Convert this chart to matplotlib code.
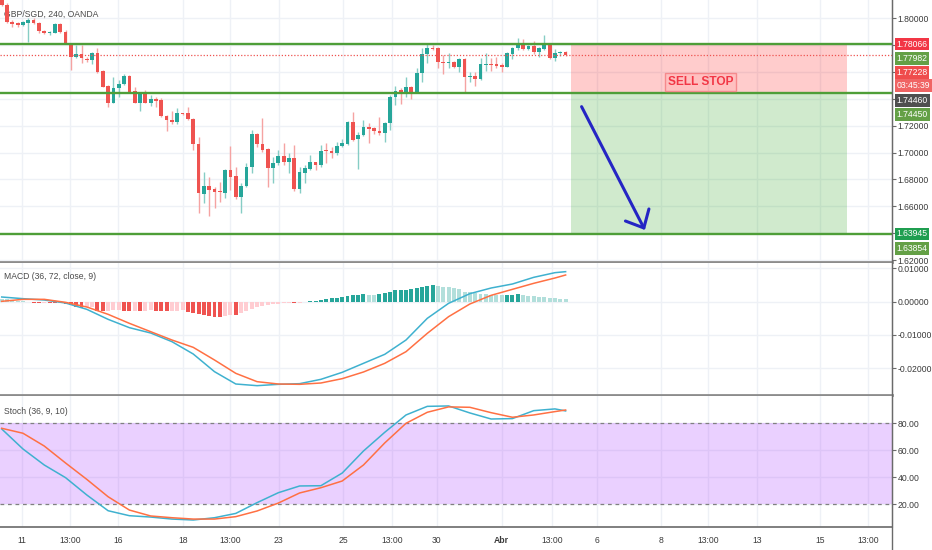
import matplotlib
matplotlib.use("Agg")
import matplotlib.pyplot as plt
import matplotlib.transforms as mtransforms
from matplotlib.lines import Line2D
from matplotlib.patches import Rectangle
from matplotlib.ticker import FuncFormatter

plt.rcParams['font.family'] = ['Liberation Sans', 'DejaVu Sans']

# ---- GBP/SGD 4h candles ----
opens = [1.8150, 1.8097, 1.7973, 1.7966, 1.7948, 1.7966, 1.7985, 1.7966, 1.7906, 1.7886,
         1.7891, 1.7953, 1.7899, 1.7799, 1.7708, 1.7730, 1.7698, 1.7688, 1.7742, 1.7609,
         1.7495, 1.7371, 1.7477, 1.7510, 1.7569, 1.7460, 1.7371, 1.7445, 1.7371, 1.7398,
         1.7391, 1.7274, 1.7242, 1.7230, 1.7291, 1.7291, 1.7249, 1.7063, 1.6692, 1.6751,
         1.6729, 1.6717, 1.6702, 1.6870, 1.6826, 1.6672, 1.6751, 1.6895, 1.7135, 1.7063,
         1.7024, 1.6883, 1.6920, 1.6974, 1.6932, 1.6957, 1.6726, 1.6850, 1.6878, 1.6927,
         1.6907, 1.7019, 1.7014, 1.6994, 1.7051, 1.7063, 1.7230, 1.7103, 1.7130, 1.7192,
         1.7180, 1.7163, 1.7143, 1.7222, 1.7415, 1.7465, 1.7453, 1.7485, 1.7453, 1.7594,
         1.7733, 1.7775, 1.7775, 1.7676, 1.7663, 1.7676, 1.7638, 1.7693, 1.7559, 1.7569,
         1.7547, 1.7653, 1.7658, 1.7656, 1.7651, 1.7638, 1.7733, 1.7775, 1.7799, 1.7767,
         1.7792, 1.7745, 1.7767, 1.7807, 1.7700, 1.7738, 1.7750]
closes = [1.8097, 1.7973, 1.7956, 1.7948, 1.7973, 1.7985, 1.7966, 1.7906, 1.7886, 1.7899,
          1.7953, 1.7894, 1.7812, 1.7708, 1.7730, 1.7700, 1.7688, 1.7742, 1.7601, 1.7490,
          1.7371, 1.7477, 1.7510, 1.7569, 1.7453, 1.7371, 1.7445, 1.7371, 1.7398, 1.7386,
          1.7272, 1.7242, 1.7225, 1.7291, 1.7284, 1.7249, 1.7063, 1.6697, 1.6751, 1.6722,
          1.6709, 1.6709, 1.6870, 1.6821, 1.6672, 1.6751, 1.6895, 1.7135, 1.7063, 1.7019,
          1.6883, 1.6920, 1.6974, 1.6932, 1.6957, 1.6726, 1.6858, 1.6883, 1.6927, 1.6907,
          1.7014, 1.7009, 1.6994, 1.7051, 1.7073, 1.7230, 1.7093, 1.7130, 1.7192, 1.7177,
          1.7163, 1.7143, 1.7222, 1.7415, 1.7460, 1.7453, 1.7485, 1.7453, 1.7594, 1.7733,
          1.7775, 1.7767, 1.7671, 1.7663, 1.7676, 1.7638, 1.7693, 1.7559, 1.7569, 1.7547,
          1.7656, 1.7658, 1.7653, 1.7646, 1.7638, 1.7738, 1.7780, 1.7799, 1.7767, 1.7792,
          1.7745, 1.7775, 1.7807, 1.7700, 1.7738, 1.7750, 1.7725]
highs = [1.8160, 1.8109, 1.7985, 1.7973, 1.7980, 1.7998, 1.7998, 1.7973, 1.7911, 1.7906,
         1.7961, 1.7961, 1.7911, 1.7812, 1.7799, 1.7799, 1.7708, 1.7750, 1.7775, 1.7614,
         1.7502, 1.7564, 1.7539, 1.7584, 1.7576, 1.7490, 1.7453, 1.7465, 1.7428, 1.7410,
         1.7403, 1.7279, 1.7311, 1.7329, 1.7296, 1.7336, 1.7254, 1.7118, 1.6858, 1.6821,
         1.6741, 1.6783, 1.6875, 1.7051, 1.6895, 1.6776, 1.6920, 1.7168, 1.7143, 1.7254,
         1.7031, 1.6969, 1.7019, 1.7068, 1.6994, 1.7056, 1.6895, 1.6907, 1.6982, 1.6932,
         1.7056, 1.7068, 1.7044, 1.7081, 1.7098, 1.7237, 1.7304, 1.7155, 1.7242, 1.7217,
         1.7192, 1.7262, 1.7230, 1.7428, 1.7495, 1.7477, 1.7559, 1.7495, 1.7626, 1.7775,
         1.7812, 1.7799, 1.7787, 1.7725, 1.7742, 1.7683, 1.7700, 1.7700, 1.7601, 1.7601,
         1.7700, 1.7738, 1.7700, 1.7713, 1.7663, 1.7750, 1.7787, 1.7849, 1.7842, 1.7799,
         1.7829, 1.7787, 1.7874, 1.7812, 1.7767, 1.7757, 1.7757]
lows = [1.8092, 1.7966, 1.7936, 1.7931, 1.7941, 1.7824, 1.7956, 1.7886, 1.7879, 1.7874,
        1.7886, 1.7891, 1.7807, 1.7614, 1.7700, 1.7663, 1.7676, 1.7658, 1.7594, 1.7485,
        1.7341, 1.7366, 1.7415, 1.7502, 1.7445, 1.7366, 1.7309, 1.7366, 1.7346, 1.7341,
        1.7262, 1.7160, 1.7212, 1.7212, 1.7279, 1.7242, 1.7019, 1.6548, 1.6622, 1.6528,
        1.6585, 1.6635, 1.6660, 1.6722, 1.6652, 1.6548, 1.6746, 1.6850, 1.7044, 1.7007,
        1.6741, 1.6776, 1.6907, 1.6907, 1.6845, 1.6717, 1.6702, 1.6776, 1.6870, 1.6870,
        1.6895, 1.6920, 1.6957, 1.6982, 1.7044, 1.7056, 1.7088, 1.6875, 1.7123, 1.7068,
        1.7135, 1.7130, 1.7081, 1.7168, 1.7353, 1.7361, 1.7415, 1.7398, 1.7445, 1.7527,
        1.7663, 1.7762, 1.7626, 1.7584, 1.7626, 1.7626, 1.7601, 1.7453, 1.7527, 1.7495,
        1.7539, 1.7609, 1.7609, 1.7626, 1.7601, 1.7633, 1.7693, 1.7762, 1.7762, 1.7762,
        1.7733, 1.7713, 1.7762, 1.7693, 1.7683, 1.7718, 1.7718]

# ---- MACD (36, 72, close, 9) ----
macd_hist = [0.0009, 0.0007, 0.0004, 0.0002, 0.0001, 0.0000, -0.0004, -0.0005, -0.0004, -0.0004,
             -0.0004, -0.0003, -0.0007, -0.0010, -0.0015, -0.0018, -0.0017, -0.0016, -0.0027, -0.0028,
             -0.0027, -0.0026, -0.0025, -0.0027, -0.0028, -0.0027, -0.0028, -0.0027, -0.0026, -0.0027,
             -0.0028, -0.0029, -0.0028, -0.0027, -0.0026, -0.0030, -0.0033, -0.0036, -0.0040, -0.0044,
             -0.0046, -0.0047, -0.0043, -0.0040, -0.0041, -0.0035, -0.0029, -0.0022, -0.0015, -0.0012,
             -0.0010, -0.0008, -0.0006, -0.0005, -0.0004, -0.0005, -0.0003, -0.0001, 0.0001, 0.0003,
             0.0005, 0.0008, 0.0010, 0.0012, 0.0014, 0.0018, 0.0019, 0.0020, 0.0022, 0.0021,
             0.0020, 0.0024, 0.0026, 0.0030, 0.0034, 0.0035, 0.0036, 0.0037, 0.0040, 0.0045,
             0.0048, 0.0050, 0.0048, 0.0045, 0.0043, 0.0040, 0.0037, 0.0030, 0.0028, 0.0025,
             0.0023, 0.0022, 0.0021, 0.0020, 0.0019, 0.0020, 0.0021, 0.0022, 0.0019, 0.0018,
             0.0017, 0.0015, 0.0013, 0.0012, 0.0010, 0.0008, 0.0007]
line_bars = [0, 4, 8, 12, 16, 20, 24, 28, 32, 36, 40, 44, 48, 52, 56, 60, 64, 68, 72,
             76, 80, 84, 88, 92, 96, 100, 104, 106]
macd_line = [0.0014, 0.0009, 0.0005, -0.0004, -0.0023, -0.0053, -0.0078, -0.0094, -0.0120,
             -0.0157, -0.0210, -0.0247, -0.0252, -0.0248, -0.0246, -0.0233, -0.0212, -0.0185,
             -0.0158, -0.0115, -0.0050, -0.0005, 0.0024, 0.0041, 0.0053, 0.0073, 0.0087, 0.0090]
macd_signal = [0.0001, 0.0007, 0.0007, -0.0002, -0.0016, -0.0038, -0.0065, -0.0090, -0.0115,
               -0.0137, -0.0175, -0.0215, -0.0240, -0.0247, -0.0248, -0.0244, -0.0231, -0.0211,
               -0.0185, -0.0150, -0.0095, -0.0045, -0.0007, 0.0019, 0.0037, 0.0055, 0.0071, 0.0080]

# ---- Stoch (36, 9, 10) ----
stoch_k = [75.8, 60.9, 49.0, 39.6, 26.7, 15.0, 11.3, 10.3, 8.8, 8.1, 9.8, 13.0, 21.0, 28.4,
           33.4, 33.6, 43.0, 59.4, 73.3, 86.2, 92.6, 92.9, 87.7, 83.2, 83.5, 89.4, 90.7, 89.2]
stoch_d = [76.3, 72.6, 63.1, 50.5, 38.3, 25.4, 15.5, 11.1, 9.8, 8.8, 8.8, 10.6, 14.8, 20.7,
           28.2, 32.1, 37.1, 49.0, 65.4, 80.0, 88.2, 92.2, 91.9, 87.9, 84.5, 86.2, 88.7, 89.9]

# ---- time axis (bar units) ----
tick_pos = [3.8, 12.8, 21.9, 34.1, 42.9, 52.1, 64.2, 73.4, 81.8, 94.0, 103.4, 111.9,
            123.9, 132.8, 142.0, 153.8, 162.8]
tick_lbl = ['11', '13:00', '16', '18', '13:00', '23', '25', '13:00', '30', 'Abr', '13:00',
            '6', '8', '13:00', '13', '15', '13:00']

# ---- drawings ----
stop_level = 1.78066
entry_level = 1.74460
target_level = 1.63945
last_price = 1.77228
pos_start, pos_end = 107.0, 158.9

UP, DOWN = '#26a69a', '#ef5350'
GRID = '#eef1f6'
TXT = '#3a3a3a'
FS = 6.2

fig = plt.figure(figsize=(9.32, 5.5), dpi=100)
W = 892 / 932
ax = fig.add_axes([0, 1 - 262 / 550, W, 262 / 550])
ax_m = fig.add_axes([0, 1 - 395 / 550, W, 132 / 550], sharex=ax)
ax_s = fig.add_axes([0, 1 - 527 / 550, W, 131 / 550], sharex=ax)

for a in (ax, ax_m, ax_s):
    a.set_axisbelow(True)
    a.grid(True, color=GRID, lw=1)
    a.yaxis.tick_right()
    for s in ('top', 'left'):
        a.spines[s].set_visible(False)
    a.spines['right'].set_color('#6a6a6a')
    a.spines['bottom'].set_color('#8c8c8c')
    a.spines['bottom'].set_linewidth(2)
    a.tick_params(axis='y', length=3, color='#6a6a6a', labelsize=FS, labelcolor=TXT, pad=1)
    a.tick_params(axis='x', length=0)

ax_s.set_xticks(tick_pos)
ax_s.set_xticklabels(tick_lbl)
ax_s.set_xlim(-0.32, 167.35)
ax.tick_params(axis='x', labelbottom=False)
ax_m.tick_params(axis='x', labelbottom=False)
ax_s.tick_params(axis='x', labelsize=FS, labelcolor=TXT, pad=6.5)
ax_s.spines['bottom'].set_color('#6a6a6a')
ax_s.spines['bottom'].set_linewidth(1.2)
for lbl in ax_s.get_xticklabels():
    if lbl.get_text() == 'Abr':
        lbl.set_fontweight('bold')

# ---- main price panel ----
bar_x = list(range(len(opens)))
body_col = [UP if c >= o else DOWN for o, c in zip(opens, closes)]
wick_col = ['#86cdc5' if c >= o else '#f5a3a2' for o, c in zip(opens, closes)]
bottoms = [min(o, c) for o, c in zip(opens, closes)]
heights = [max(abs(c - o), 0.0006) for o, c in zip(opens, closes)]
ax.vlines(bar_x, lows, highs, colors=wick_col, lw=1, zorder=3)
ax.bar(bar_x, heights, bottom=bottoms, width=0.7, color=body_col, zorder=4)

ax.set_ylim(1.6186, 1.8134)
ax.set_yticks([1.62, 1.64, 1.66, 1.68, 1.70, 1.72, 1.74, 1.76, 1.78, 1.80])
ax.yaxis.set_major_formatter(FuncFormatter(lambda v, _: f'{v:.5f}'))

ax.add_patch(Rectangle((pos_start, entry_level), pos_end - pos_start, stop_level - entry_level,
                       fc=(1, 0, 0, 0.2), ec='none', zorder=2))
ax.add_patch(Rectangle((pos_start, target_level), pos_end - pos_start, entry_level - target_level,
                       fc=(0.08, 0.6, 0.02, 0.2), ec='none', zorder=2))
for lv in (stop_level, entry_level, target_level):
    ax.axhline(lv, color='#4e9e38', lw=1.7, zorder=5)
ax.axhline(last_price, color='#ef5350', lw=0.9, ls=(0, (1, 1.5)), zorder=5)

ax.text(131.4, 1.7524, 'SELL STOP', ha='center', va='center', color='#f23645',
        fontsize=8.6, fontweight='bold', zorder=6,
        bbox=dict(boxstyle='square,pad=0.25', fc=(1, 0, 0, 0.06), ec='#f58a8d', lw=1))
ax.annotate('', xy=(120.9, 1.6424), xytext=(109.0, 1.7341), zorder=6,
            arrowprops=dict(arrowstyle='->,head_length=1.05,head_width=0.95', color='#2525c4',
                            lw=2.2, mutation_scale=10, shrinkA=0, shrinkB=0))

ax.text(0.005, 0.947, 'GBP/SGD, 240, OANDA', transform=ax.transAxes, fontsize=FS,
        color='#4a4a4a', va='center', ha='left', zorder=2)

# price labels on the right scale (stacked so they don't collide)
right = mtransforms.blended_transform_factory(ax.transAxes, ax.transData)
price_tags = [
    (stop_level, '1.78066', '#f23645', 0),
    (1.77982, '1.77982', '#64a046', 9.6),
    (last_price, '1.77228', '#ef4c4c', 12.4),
    (last_price, '03:45:39', '#f06464', 21.8),
    (entry_level, '1.74460', '#4f4f4f', 5.8),
    (1.74450, '1.74450', '#64a046', 15.8),
    (target_level, '1.63945', '#1f9e50', 0),
    (1.63854, '1.63854', '#64a046', 9.6),
]
for price, txt, col, off in price_tags:
    ax.annotate(txt, xy=(1, price), xycoords=right, xytext=(3.2, -off), textcoords='offset points',
                ha='left', va='center', fontsize=FS, color='white', annotation_clip=False,
                zorder=10, bbox=dict(boxstyle='square,pad=0.22', fc=col, ec='none'))

# ---- MACD panel ----
prev = [None] + macd_hist[:-1]
hist_col = []
for h, p in zip(macd_hist, prev):
    if h >= 0:
        hist_col.append('#26a69a' if p is not None and h > p else '#b2dfdb')
    else:
        hist_col.append('#ffcdd2' if p is None or h > p else '#ef5350')
ax_m.bar(bar_x, macd_hist, width=0.75, color=hist_col, zorder=2)
ax_m.plot(line_bars, macd_line, color='#3fb1cf', lw=1.1, zorder=3)
ax_m.plot(line_bars, macd_signal, color='#ff7043', lw=1.1, zorder=3)
ax_m.set_ylim(-0.0280, 0.0116)
ax_m.set_yticks([-0.02, -0.01, 0.0, 0.01])
ax_m.yaxis.set_major_formatter(FuncFormatter(lambda v, _: f'{v:.5f}'))
ax_m.text(0.005, 0.895, 'MACD (36, 72, close, 9)', transform=ax_m.transAxes, fontsize=FS,
          color='#4a4a4a', va='center')

# ---- Stoch panel ----
ax_s.axhspan(20, 80, color='#9915ff', alpha=0.2, lw=0, zorder=1)
ax_s.axhline(80, color='#808080', lw=0.9, ls=(0, (3, 3)), zorder=2)
ax_s.axhline(20, color='#808080', lw=0.9, ls=(0, (3, 3)), zorder=2)
ax_s.plot(line_bars, stoch_k, color='#3fb1cf', lw=1.1, zorder=3)
ax_s.plot(line_bars, stoch_d, color='#ff7043', lw=1.1, zorder=3)
ax_s.set_ylim(2.9, 100.3)
ax_s.set_yticks([20, 40, 60, 80])
ax_s.yaxis.set_major_formatter(FuncFormatter(lambda v, _: f'{v:.2f}'))
ax_s.text(0.005, 0.885, 'Stoch (36, 9, 10)', transform=ax_s.transAxes, fontsize=FS,
          color='#4a4a4a', va='center')

fig.add_artist(Line2D([W, W], [0, 1], transform=fig.transFigure, color='#6a6a6a', lw=1))

fig.savefig('out.png', dpi=100)
